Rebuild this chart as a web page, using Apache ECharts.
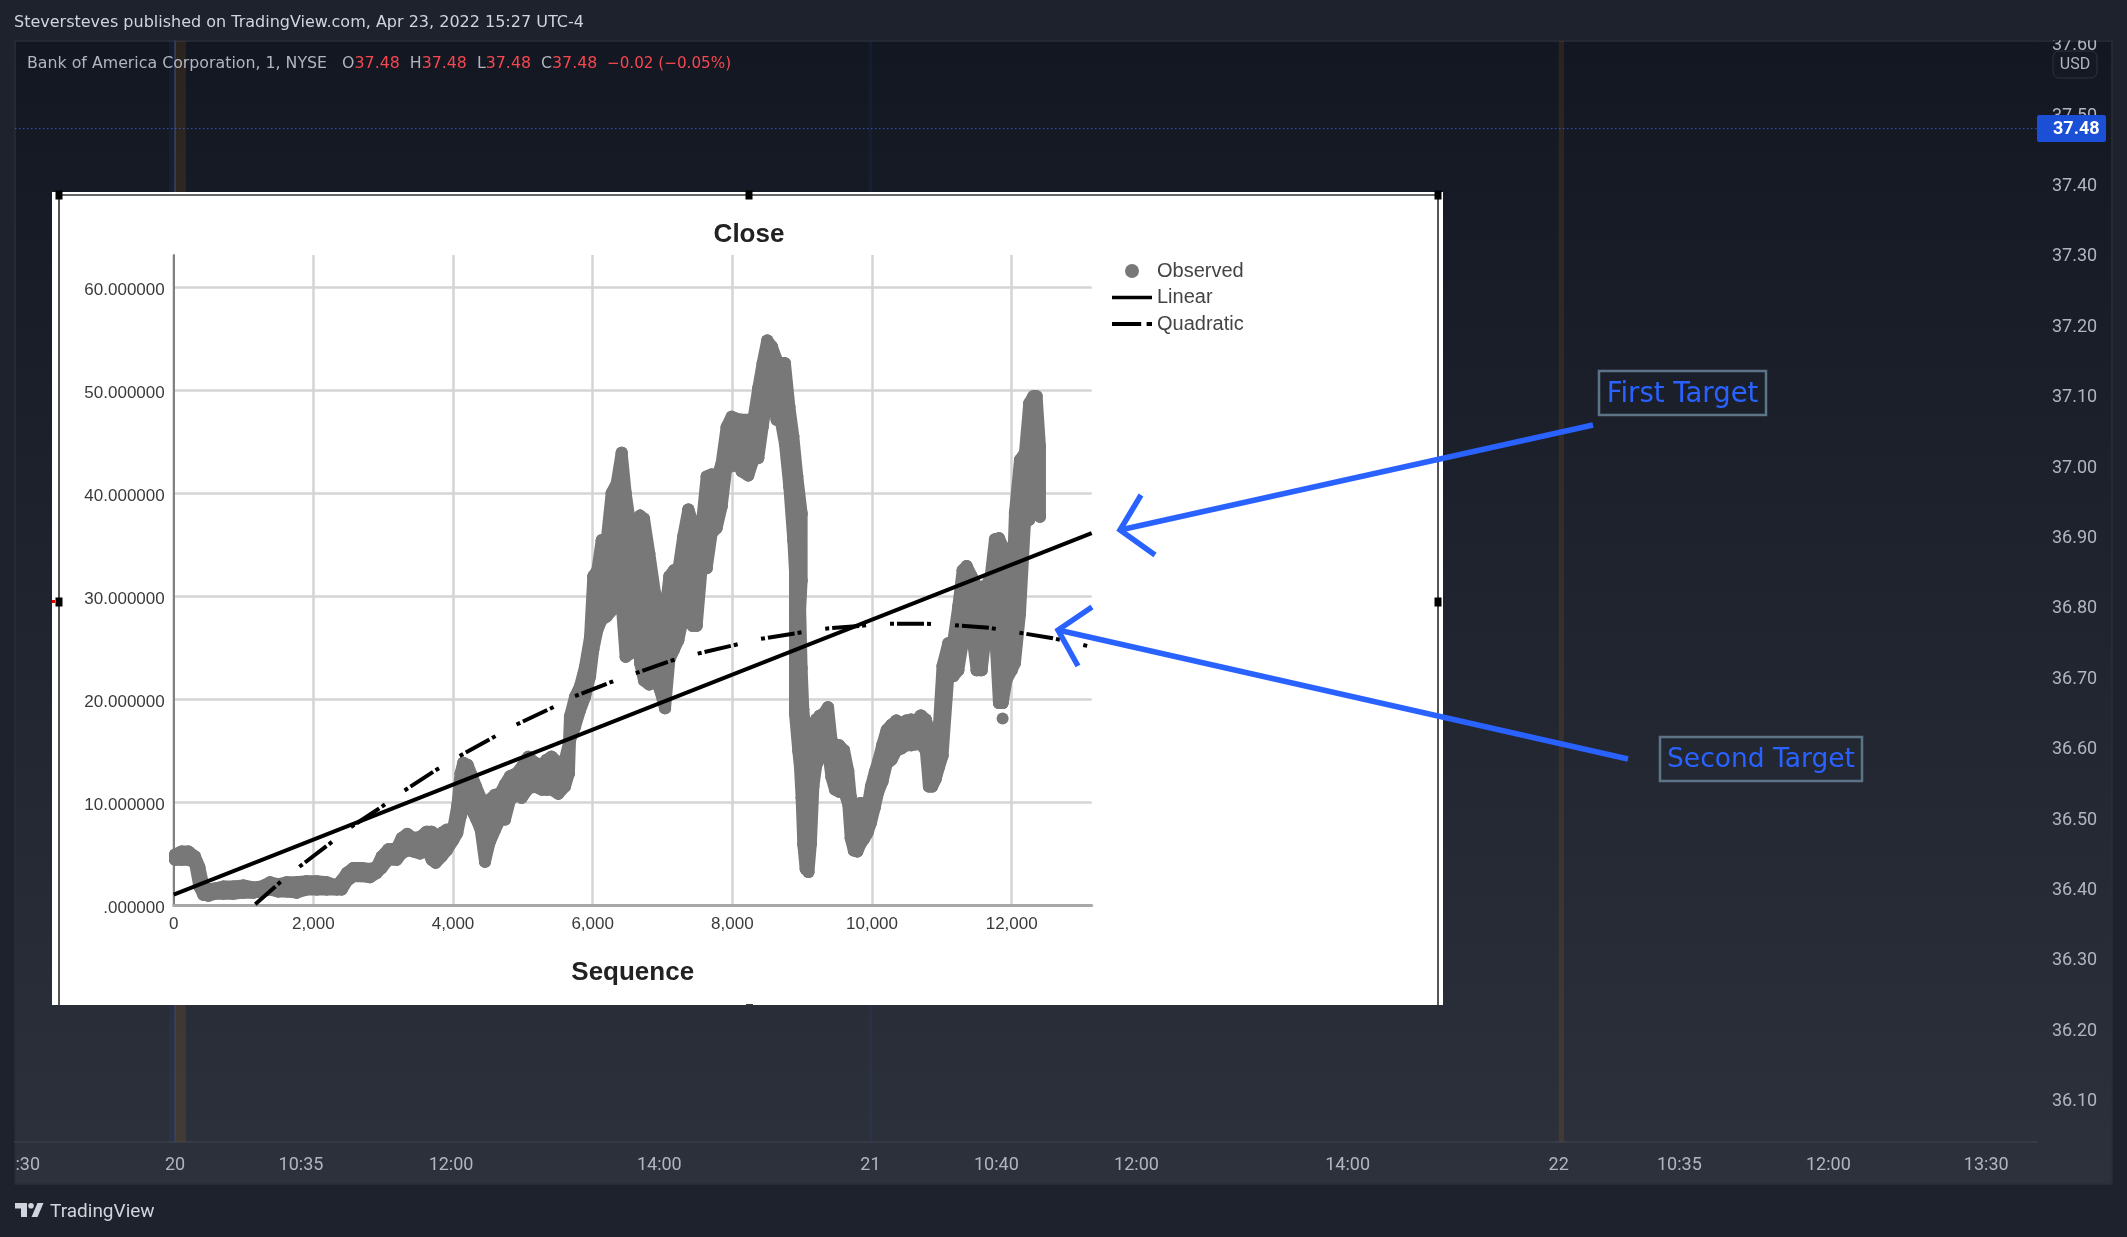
<!DOCTYPE html>
<html><head><meta charset="utf-8">
<style>html,body{margin:0;padding:0;background:#1e222d;overflow:hidden}#c{width:2127px;height:1237px}</style>
<script src="https://cdn.jsdelivr.net/npm/echarts@6/dist/echarts.min.js"></script>
</head><body><div id="c"></div>
<script>
// Host (TradingView) chart
const priceTicks = [36.1,36.2,36.3,36.4,36.5,36.6,36.7,36.8,36.9,37.0,37.1,37.2,37.3,37.4,37.5,37.6];
const lastPrice = 37.48;
const timeTickBars = [-83,0,71,155.6,273,392,463,542,661,780,848,932,1021];
const timeTickLabels = [':30','20','10:35','12:00','14:00','21','10:40','12:00','14:00','22','10:35','12:00','13:30'];
const shadeStart = [-3.4,0,391,780];
const shadeEnd = [0,6.2,393,783];
const shadeKind = ['blue','brown','blue','brown'];
// Pasted SPSS chart: the observed dots, read column by column (sequence, highest and lowest close in that column)
const observedSeq = [20,114,210,305,367,424,496,591,711,854,997,1140,1260,1379,1498,1618,1761,1904,2047,2190,2334,2405,2477,2572,2691,2811,2906,2978,3073,3193,3264,3345,3431,3527,3622,3694,3751,3837,3909,4004,4061,4109,4147,4209,4267,4329,4396,4458,4520,4601,4672,4744,4816,4911,4983,5078,5174,5269,5341,5412,5508,5603,5660,
5675,5747,5818,5890,5962,6009,6067,6129,6200,6272,6343,6415,6472,6534,6592,6678,6735,6811,6892,6964,7036,7098,7164,7226,7298,7370,7432,7489,7560,7632,7704,7775,7847,
7918,7990,8061,8133,8228,8300,8372,8434,8500,8567,8634,8691,8753,8816,8873,8930,8992,
8897,8944,8968,8992,9016,9050,9090,9125,9160,9200,9255,9300,9370,9420,9470,9530,9600,9660,9695,9740,9790,9840,9885,9935,9985,10040,10090,10150,10210,10280,10350,10420,10490,10560,10630,10700,10770,10815,10860,10910,10960,11010,
11092,11164,11236,11298,11355,11427,11498,11570,11632,11699,11761,11818,11870,11928,12000,12047,12119,12190,12252,12310,12357,12405];
const observedHigh = [4.9,5.2,5.2,4.7,3.7,1.9,1.5,1.6,1.8,1.8,1.9,1.7,1.8,2.2,2.0,2.2,2.2,2.3,2.3,2.2,1.9,2.4,3.1,3.6,3.6,3.5,3.7,4.7,5.4,5.5,6.5,6.9,6.5,6.6,7.1,7.1,6.0,7.0,7.3,7.5,9.6,12.8,13.8,13.6,12.6,11.5,10.4,8.3,10.2,10.7,10.8,11.7,12.5,12.8,13.4,14.4,13.8,13.6,14.1,14.4,13.8,14.1,15.7,
18.3,20.2,21.2,23.1,26.0,31.9,32.5,35.4,35.4,40.0,40.9,43.9,40.0,37.1,37.1,37.8,37.5,34.1,30.3,29.0,28.3,31.9,32.5,32.5,35.8,38.4,37.1,36.4,36.7,41.6,41.8,41.3,42.9,
46.4,47.4,47.2,47.1,47.1,47.1,50.2,52.6,54.8,54.2,52.9,52.6,52.6,48.4,45.5,41.6,38.0,
38.0,35.0,29.6,23.0,19.0,16.5,14.5,16.0,17.0,18.0,18.4,18.5,19.2,16.0,15.5,15.5,15.0,13.0,10.5,9.5,9.7,9.9,9.9,9.5,11.5,12.9,14.0,15.6,17.0,17.5,17.9,17.0,17.9,18.0,17.9,18.4,18.0,17.0,16.0,16.0,17.6,23.2,
25.4,25.6,29.0,32.5,32.9,31.9,30.9,30.9,30.9,31.9,35.5,35.6,34.8,30.9,29.0,38.1,43.2,43.9,48.7,49.4,49.4,44.5];
const observedLow = [4.4,4.4,4.4,4.1,1.8,1.0,0.9,1.1,1.1,1.1,1.2,1.2,1.3,1.5,1.3,1.3,1.2,1.5,1.5,1.5,1.5,1.5,2.3,2.8,2.8,2.7,3.1,3.6,4.4,4.4,5.0,5.3,5.2,5.0,5.5,4.4,4.1,4.7,5.3,6.3,7.0,8.6,9.9,10.5,9.2,8.4,7.3,4.2,6.0,7.3,8.3,8.3,10.2,10.7,10.4,11.3,11.5,11.2,11.2,11.2,10.8,11.5,12.8,
16.0,17.3,18.9,20.2,22.2,24.8,26.7,27.7,28.0,28.6,29.0,29.3,24.1,24.4,29.6,23.5,21.8,21.4,22.0,20.9,19.1,23.8,24.8,25.7,28.0,29.0,27.1,27.1,32.7,32.7,36.1,36.6,38.7,
42.7,42.6,43.2,42.1,41.7,43.2,43.4,46.4,49.4,49.8,47.1,47.1,44.8,40.6,35.4,28.3,31.5,
18.6,15.0,13.4,10.4,5.9,3.5,3.2,6.0,11.5,13.5,14.4,15.0,15.0,12.4,11.2,11.0,11.0,9.8,6.5,5.3,5.2,6.0,6.4,7.0,8.0,9.5,11.0,12.0,13.7,14.1,15.0,15.2,15.5,15.5,15.6,15.6,15.0,11.5,11.5,12.2,13.4,14.5,
22.2,22.2,22.8,25.4,27.0,26.7,22.8,22.8,26.4,26.7,26.7,19.6,19.6,21.9,22.8,23.5,28.3,37.1,37.4,38.4,38.1,37.7];
const observedLoneSeq = [11870];
const observedLoneClose = [18.1];
const observedLowGapAfter = [6592];
const linearSeq = [0,13146];
const linearClose = [1.0,36.1];
const quadraticSeq = [1157,1522,1777,2243,2525,2991,3279,3756,4078,4558,4873,5403,5718,6248,6571,7114,7437,8009,8376,8923,9280,9828,10200,10787,11117,11690,12047,12590,13116];
const quadraticClose = [0,2.2,3.6,6.0,7.5,9.6,11.0,13.1,14.4,16.2,17.4,19.1,20.2,21.6,22.4,23.7,24.3,25.2,25.8,26.4,26.8,27.1,27.3,27.3,27.2,26.9,26.5,25.9,25.1];

const zip = (a,b)=>a.map((v,i)=>[v,b[i]]);
const observedPath = [
  ...observedSeq.flatMap((s,i)=>[[s,observedHigh[i]],[s,observedLow[i]],[s,null]]),
  ...zip(observedSeq,observedHigh),[0,null],
  ...observedSeq.flatMap((s,i)=>observedLowGapAfter.includes(s)?[[s,observedLow[i]],[s,null]]:[[s,observedLow[i]]]),[0,null],
  ...zip(observedLoneSeq,observedLoneClose)
];
const UI = 'Roboto, sans-serif', TV = '"DejaVu Sans", sans-serif', SP = '"Liberation Sans", Arial, sans-serif';
const BLUE = '#2962ff', OUTER = '#1e222d', RED = '#f6474f';
const line = (pts,w,color,z)=>({type:'polyline',z:z||50,shape:{points:pts},style:{stroke:color,lineWidth:w,fill:null,lineCap:'butt',lineJoin:'miter'},silent:true});
const rect = (x,y,w,h,style,z,r)=>({type:'rect',z:z,shape:{x,y,width:w,height:h,r:r||0},style,silent:true});
const text = (x,y,t,font,fill,extra)=>({type:'text',z:60,x,y,style:Object.assign({text:t,font,fill,textVerticalAlign:'middle'},extra||{}),silent:true});
const handle = (x,y)=>rect(x-3.5,y-4.5,7,9,{fill:'#000'},6);

const chart = echarts.init(document.getElementById('c'),null,{renderer:'canvas'});
chart.setOption({
  animation:false,
  backgroundColor:OUTER,
  grid:[
    {left:15,top:41,width:2022,height:1101},
    {left:173.7,top:255,width:918,height:650}
  ],
  xAxis:[
    {gridIndex:0,type:'value',min:-90.2,max:1049.6,z:-10,
     axisLine:{show:true,lineStyle:{color:'#3a3e49',width:1.5}},axisTick:{show:false},splitLine:{show:false},
     axisLabel:{customValues:timeTickBars,margin:14,color:'#b2b5be',fontFamily:UI,fontSize:18,
       formatter:v=>timeTickLabels[timeTickBars.indexOf(v)]}},
    {gridIndex:1,type:'value',min:0,max:13146,interval:2000,z:1,
     name:'Sequence',nameLocation:'middle',nameGap:55,
     nameTextStyle:{fontFamily:SP,fontWeight:'bold',fontSize:26,color:'#222'},
     axisLine:{show:true,lineStyle:{color:'#a8a8a8',width:3}},axisTick:{show:false},
     splitLine:{show:true,showMaxLine:false,lineStyle:{color:'#d4d4d4',width:2.5}},
     axisLabel:{showMaxLabel:false,margin:11,color:'#3a3a3a',fontFamily:SP,fontSize:17,
       formatter:v=>v.toLocaleString('en-US')}}
  ],
  yAxis:[
    {gridIndex:0,type:'value',position:'right',min:36.0406,max:37.6045,z:-10,
     axisLine:{show:true,lineStyle:{color:'#3a3e49',width:1.5}},axisTick:{show:false},splitLine:{show:false},
     axisLabel:{customValues:priceTicks,margin:15,color:'#b2b5be',fontFamily:UI,fontSize:18,
       rich:{a:{padding:[3,0,0,0],color:'#b2b5be',fontFamily:UI,fontSize:18}},
       formatter:v=>'{a|'+v.toFixed(2)+'}'}},
    {gridIndex:1,type:'value',min:0,max:63.1,interval:10,z:1,
     axisLine:{show:true,lineStyle:{color:'#808080',width:2}},axisTick:{show:false},
     splitLine:{show:true,showMaxLine:false,lineStyle:{color:'#d4d4d4',width:2.5}},
     axisLabel:{showMaxLabel:false,margin:9,color:'#3a3a3a',fontFamily:SP,fontSize:17,
       rich:{a:{padding:[6,0,0,0],color:'#3a3a3a',fontFamily:SP,fontSize:17}},
       formatter:v=>'{a|'+(v===0?'.000000':v.toFixed(6))+'}'}}
  ],
  title:{text:'Close',left:744,top:217,textAlign:'center',textStyle:{fontFamily:SP,fontWeight:'bold',fontSize:26,color:'#222'}},
  legend:{orient:'vertical',left:1107,top:256,itemWidth:40,itemHeight:14,itemGap:6.5,
    textStyle:{fontFamily:SP,fontSize:20,color:'#444'},
    data:[{name:'Observed',icon:'circle'},
          {name:'Linear',icon:'path://M0 0H40V3.5H0Z'},
          {name:'Quadratic',icon:'path://M0 0H27V3.5H0ZM32 0H37V3.5H32Z'}]},
  series:[
    {type:'custom',name:'session',xAxisIndex:0,yAxisIndex:0,z:-8,silent:true,
     data:shadeStart.map((s,i)=>[s,shadeEnd[i],i]),
     encode:{x:[0,1]},
     renderItem:(p,api)=>{
       const a=api.coord([api.value(0),37.6045]), b=api.coord([api.value(1),36.0406]);
       const kind=shadeKind[api.value(2)];
       return {type:'rect',shape:{x:a[0],y:a[1],width:b[0]-a[0],height:b[1]-a[1]},
         style:{fill:kind==='blue'?'rgba(41,98,255,0.07)':'rgba(255,152,0,0.10)'}};
     }},
    {type:'line',name:'last',xAxisIndex:0,yAxisIndex:0,z:-8,silent:true,symbol:'none',
     data:[[-90.2,lastPrice],[1049.6,lastPrice]],
     lineStyle:{color:'#2962ff',width:1,type:[1.5,2.5],opacity:0.85}},
    {type:'line',name:'Observed',xAxisIndex:1,yAxisIndex:1,z:3,silent:true,
     data:observedPath,
     symbol:'circle',symbolSize:12,showSymbol:true,showAllSymbol:true,connectNulls:false,
     itemStyle:{color:'#787878'},
     lineStyle:{color:'#787878',width:12,cap:'round',join:'round'}},
    {type:'line',name:'Linear',xAxisIndex:1,yAxisIndex:1,z:4,silent:true,symbol:'none',
     data:zip(linearSeq,linearClose),
     itemStyle:{color:'#000'},lineStyle:{color:'#000',width:4}},
    {type:'line',name:'Quadratic',xAxisIndex:1,yAxisIndex:1,z:5,silent:true,symbol:'none',
     data:zip(quadraticSeq,quadraticClose),
     itemStyle:{color:'#000'},
     lineStyle:{color:'#000',width:4,type:[4,3,27,3,4,24],dashOffset:6}}
  ],
  graphic:{elements:[
    rect(15,41,2097,1143,{fill:new echarts.graphic.LinearGradient(0,0,0,1,[{offset:0,color:'#131722'},{offset:1,color:'#2d313c'}]),stroke:'#2a2e39',lineWidth:1.5},-20),
    // pasted picture
    rect(52,192,1391,813,{fill:'#fff'},-5),
    line([[59,195],[59,1005]],2,'#555',-4),
    line([[1438,195],[1438,1005]],2,'#555',-4),
    line([[59,195],[1438,195]],2,'#666',-4),
    handle(59,195),handle(749,195),handle(1438,195),handle(59,602),handle(1438,602),
    rect(52,600,3,3,{fill:'#e00'},6),
    rect(746,1004,7,2,{fill:'#333'},6),
    // top mask & header
    rect(2037.8,30,80,10.3,{fill:OUTER},40),
    text(14,23,'Steversteves published on TradingView.com, Apr 23, 2022 15:27 UTC-4','16px '+TV,'#d1d4dc'),
    {type:'text',z:60,x:27,y:64,silent:true,style:{
      text:'{g|Bank of America Corporation, 1, NYSE   O}{r|37.48}{g|  H}{r|37.48}{g|  L}{r|37.48}{g|  C}{r|37.48}{d|  \u22120.02 (\u22120.05%)}',
      verticalAlign:'middle',
      rich:{g:{font:'15.8px '+TV,fill:'#b2b5be'},r:{font:'15.8px '+TV,fill:RED},d:{font:'15.2px '+TV,fill:RED}}}},
    // price tag and currency
    rect(2037,115,69,27,{fill:'#1a4fd6'},45,2),
    text(2053,129.5,lastPrice.toFixed(2),'bold 18px '+UI,'#fff'),
    rect(2053,51,44,27,{fill:'#151924',stroke:'#2f333e',lineWidth:1},45,6),
    text(2075,65,'USD','16px '+UI,'#b2b5be',{textAlign:'center'}),
    // annotations
    line([[1593,425],[1120,530]],5.5,BLUE),
    line([[1141,495],[1120,530],[1155,555]],5.5,BLUE),
    line([[1628,759],[1058,630]],5.5,BLUE),
    line([[1092,607],[1058,630],[1078,666]],5.5,BLUE),
    rect(1599,371,167,44,{fill:'rgba(0,0,0,0)',stroke:'#5d7388',lineWidth:2.5},55),
    text(1682.5,395,'First Target','27.5px '+TV,BLUE,{textAlign:'center'}),
    rect(1660,737,202,44,{fill:'rgba(0,0,0,0)',stroke:'#5d7388',lineWidth:2.5},55),
    text(1761,760,'Second Target','26.5px '+TV,BLUE,{textAlign:'center'}),
    // logo
    {type:'polygon',z:60,silent:true,shape:{points:[[15,1203],[27,1203],[27,1217],[21,1217],[21,1208.5],[15,1208.5]]},style:{fill:'#d1d4dc'}},
    {type:'circle',z:60,silent:true,shape:{cx:31,cy:1205.8,r:2.8},style:{fill:'#d1d4dc'}},
    {type:'polygon',z:60,silent:true,shape:{points:[[37.5,1203],[43.5,1203],[37.5,1217],[31.5,1217]]},style:{fill:'#d1d4dc'}},
    text(50,1212,'TradingView','19px '+UI,'#d1d4dc')
  ]}
});
</script></body></html>
